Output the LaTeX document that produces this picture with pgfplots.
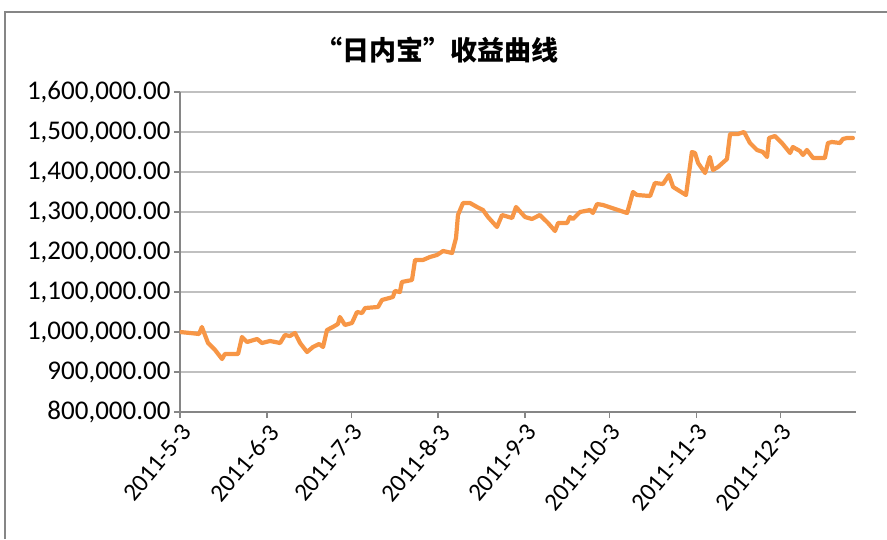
\documentclass[border=0pt]{standalone}
\usepackage{fontspec}
\setmainfont{Carlito}
\newfontfamily\cjk{Noto Sans CJK SC}
\usepackage{pgfplots}
\pgfplotsset{compat=1.18}
\definecolor{lineor}{RGB}{247,150,70}
\definecolor{gridg}{RGB}{192,192,192}
\definecolor{axg}{RGB}{134,134,134}
\begin{document}
\begin{tikzpicture}[x=1pt,y=1pt]
\path[use as bounding box] (0,0) rectangle (887,539);
\draw[axg, line width=1.2pt] (5,0) -- (5,527) -- (887,527);
\node[font=\cjk\bfseries\fontsize{27}{30}\selectfont] at (437,489) {“日内宝”收益曲线};
\begin{axis}[
  at={(180pt,127pt)}, anchor=south west,
  scale only axis, width=676pt, height=320pt,
  xmin=0, xmax=241, ymin=800000, ymax=1600000,
  axis lines*=left,
  axis line style={axg, line width=1.2pt},
  ymajorgrids, grid style={gridg, line width=1.2pt},
  tick style={axg, line width=1.2pt},
  major tick length=6pt, tick align=outside,
  ytick={800000,900000,1000000,1100000,1200000,1300000,1400000,1500000,1600000},
  scaled y ticks=false,
  /pgf/number format/fixed,
  /pgf/number format/fixed zerofill,
  /pgf/number format/precision=2,
  /pgf/number format/1000 sep={,},
  /pgf/number format/assume math mode=true,
  yticklabel style={font=\fontsize{27}{30}\selectfont, color=black},
  xtick={0,31,61,92,123,153,184,214},
  xticklabels={2011-5-3,2011-6-3,2011-7-3,2011-8-3,2011-9-3,2011-10-3,2011-11-3,2011-12-3},
  xticklabel style={font=\fontsize{25}{28}\selectfont, rotate=50, anchor=north east, color=black, inner sep=3pt},
]
\addplot[lineor, line width=4.2pt, line join=round, line cap=round] coordinates {
(0,1000000) (3.6,997500) (6.8,995000) (7.8,1012500) (10,972500) (12.5,955000)
(15,932500) (16,945000) (20.7,945000) (22.1,987500) (23.9,975000) (27.5,982500)
(29.2,972500) (32.1,977500) (35.7,972500) (37.4,992500) (39.2,990000) (41,997500)
(42.8,972500) (45.3,950000) (47.4,962500) (49.6,970000) (51,962500) (52.4,1005000)
(54.5,1012500) (56.3,1020000) (57,1037500) (58.8,1017500) (61.3,1022500) (63.1,1050000)
(64.9,1047500) (66,1060000) (70.6,1062500) (72,1080000) (75.9,1087500) (76.6,1102500)
(78.4,1100000) (79.1,1125000) (82.7,1130000) (83.8,1180000) (86.6,1180000) (89.1,1187500)
(91.6,1192500) (93.8,1202500) (97,1197500) (98.4,1235000) (99.1,1292500) (100.9,1322500)
(103.4,1322500) (105.9,1312500) (108,1305000) (109.8,1287500) (113,1262500) (114.8,1292500)
(118.4,1285000) (119.8,1312500) (123,1287500) (125.5,1282500) (128.3,1292500) (131.2,1272500)
(133.7,1252500) (134.8,1272500) (138,1272500) (139,1287500) (140.1,1282500) (142.6,1300000)
(146.2,1305000) (147.2,1297500) (148.7,1320000) (150.8,1317500) (159.4,1297500) (161.5,1350000)
(162.9,1342500) (167.6,1340000) (169.3,1372500) (172.2,1370000) (174.3,1392500) (175.8,1362500)
(180.4,1342500) (182.5,1450000) (183.6,1447500) (184.7,1422500) (187.2,1397500) (188.9,1437500)
(190,1405000) (191.8,1412500) (195,1432500) (196.1,1495000) (198.9,1495000) (201.1,1500000)
(203.2,1472500) (205.7,1455000) (207.8,1450000) (209.3,1437500) (210,1485000) (212.1,1490000)
(214.6,1472500) (217.5,1447500) (218.5,1462500) (221,1452500) (222.1,1442500) (223.5,1455000)
(225.7,1435000) (229.9,1435000) (231,1472500) (232.4,1475000) (235.3,1472500) (236.3,1482500)
(237.8,1485000) (239.9,1485000)
};
\end{axis}
\end{tikzpicture}
\end{document}
